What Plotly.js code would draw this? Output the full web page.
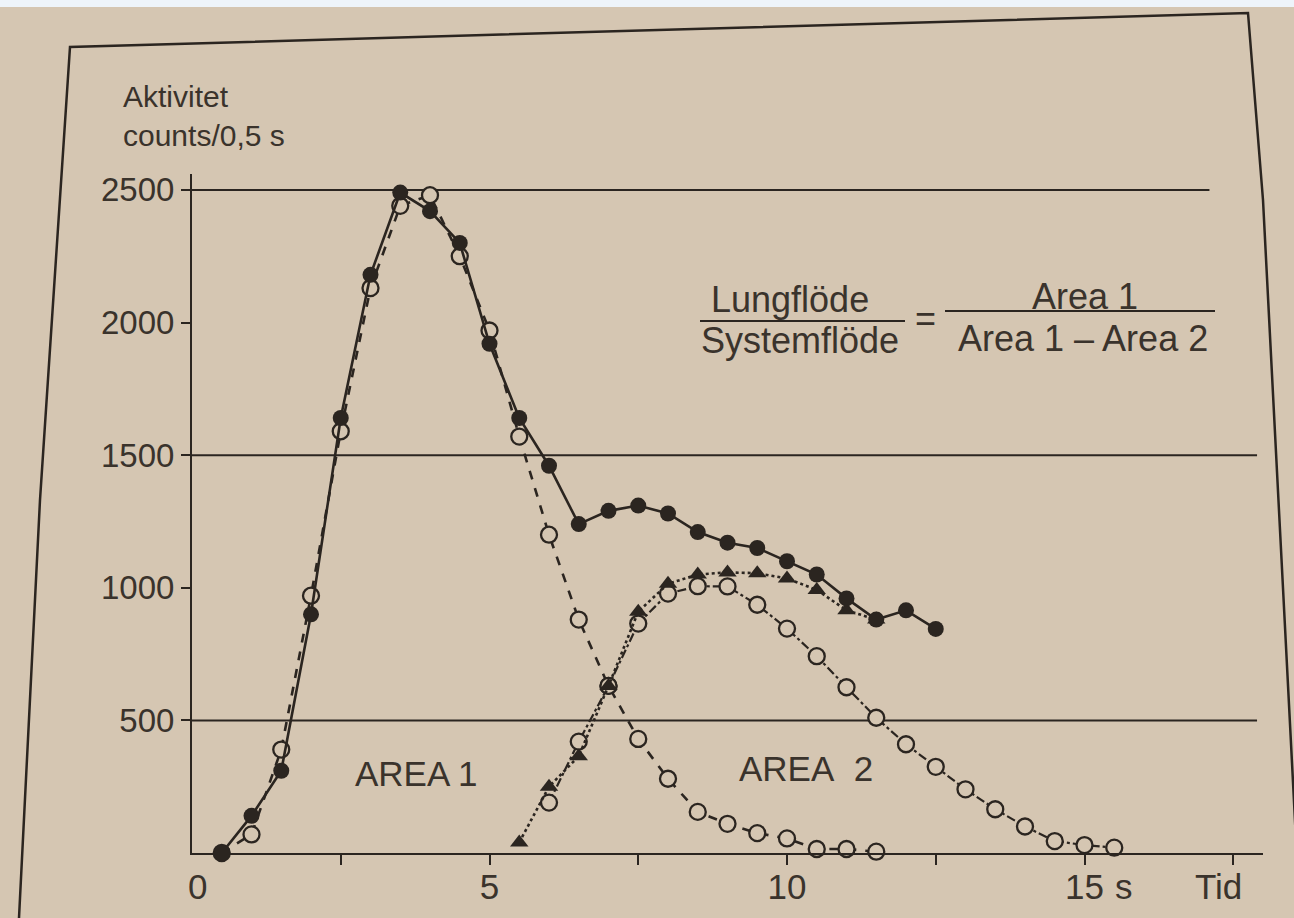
<!DOCTYPE html>
<html>
<head>
<meta charset="utf-8">
<script src="https://cdn.plot.ly/plotly-3.0.1.min.js"></script>
<style>html,body{margin:0;padding:0;background:#d5c6b2;}#chart{width:1294px;height:918px;}</style>
</head>
<body>
<div id="chart"></div>
<script>
// ---- data (time in s, activity in counts/0,5 s) ----
const totalT = [0.5,1,1.5,2,2.5,3,3.5,4,4.5,5,5.5,6,6.5,7,7.5,8,8.5,9,9.5,10,10.5,11,11.5,12,12.5];
const totalY = [0,140,310,900,1640,2180,2490,2420,2300,1920,1640,1460,1240,1290,1310,1280,1210,1170,1150,1100,1050,960,880,915,845];

const area1T = [0.5,1,1.5,2,2.5,3,3.5,4,4.5,5,5.5,6,6.5,7,7.5,8,8.5,9,9.5,10,10.5,11,11.5];
const area1Y = [0,70,390,970,1590,2130,2440,2480,2250,1970,1570,1200,880,630,430,280,155,110,75,55,15,15,5];

const diffT = [5.5,6,6.5,7,7.5,8,8.5,9,9.5,10,10.5,11,11.5];
const diffY = [40,250,365,630,910,1015,1050,1058,1055,1035,992,915,880];

const area2T = [6,6.5,7,7.5,8,8.5,9,9.5,10,10.5,11,11.5,12,12.5,13,13.5,14,14.5,15,15.5];
const area2Y = [190,420,630,865,978,1006,1005,936,846,742,625,510,410,325,240,165,100,45,30,20];

const yTicks = [500,1000,1500,2000,2500];
const yTickText = ['500','1000','1500','2000','2500'];
const xTicks = [2.5,5,7.5,10,12.5,15,17.5];
const xTickText = ['','5','','10','','15',''];
const gridLevels = [500,1500,2500];

// ---- style ----
const INK = '#2b2520';
const TXT = '#3a332c';
const PAPER = '#d5c6b2';
const FONT = 'Liberation Sans, Arial, Helvetica, sans-serif';

// layout geometry (pixels)
const L = 192, R = 31, T = 174, B = 65, W = 1294, H = 918;
const PW = W - L - R, PH = H - T - B;
const px = x => (x - L) / PW;
const py = y => (H - B - y) / PH;

const traces = [
  {x: area2T, y: area2Y, mode: 'lines+markers', cliponaxis: false,
   line: {color: INK, width: 2.2, dash: 'dashdot'},
   marker: {symbol: 'circle', size: 16, color: PAPER, line: {color: INK, width: 2.3}}},
  {x: area1T, y: area1Y, mode: 'lines+markers', cliponaxis: false,
   line: {color: INK, width: 2.6, dash: 'dash'},
   marker: {symbol: 'circle', size: 16, color: PAPER, line: {color: INK, width: 2.3}}},
  {x: diffT, y: diffY, mode: 'lines+markers', cliponaxis: false,
   line: {color: INK, width: 2.6, dash: 'dot'},
   marker: {symbol: 'triangle-up', size: 16, color: INK}},
  {x: totalT, y: totalY, mode: 'lines+markers', cliponaxis: false,
   line: {color: INK, width: 2.6},
   marker: {symbol: 'circle', size: 16, color: INK}}
];

const shapes = [];
gridLevels.forEach(v => {
  shapes.push({type: 'line', xref: 'x', yref: 'y', x0: 0, x1: v === 2500 ? 17.1 : 17.9, y0: v, y1: v,
               line: {color: INK, width: 2}, layer: 'below'});
});
// printed frame
shapes.push({type: 'path', xref: 'paper', yref: 'paper',
  path: `M ${px(19)} ${py(918)} L ${px(40)} ${py(500)} L ${px(70)} ${py(47)} L ${px(1248)} ${py(13)} L ${px(1263)} ${py(200)} L ${px(1300)} ${py(918)}`,
  line: {color: INK, width: 2.5}});
// formula fraction bars
shapes.push({type: 'line', xref: 'paper', yref: 'paper', x0: px(700), x1: px(905), y0: py(321), y1: py(321), line: {color: INK, width: 2}});
shapes.push({type: 'line', xref: 'paper', yref: 'paper', x0: px(945), x1: px(1215), y0: py(311), y1: py(311), line: {color: INK, width: 2}});
// top light strip of the photo
shapes.push({type: 'rect', xref: 'paper', yref: 'paper', x0: px(-5), x1: px(1300), y0: py(7), y1: py(-5),
  fillcolor: '#eef4fa', line: {width: 0}});

function ann(text, x, y, size, xanchor, yanchor) {
  return {text: text, xref: 'paper', yref: 'paper', x: px(x), y: py(y), showarrow: false, align: 'left',
          xanchor: xanchor || 'center', yanchor: yanchor || 'middle', font: {family: FONT, size: size, color: TXT}};
}
const annotations = [
  ann('Aktivitet<br>counts/0,5 s', 121, 78, 30, 'left', 'top'),
  ann('Lungflöde', 790, 299, 36),
  ann('Systemflöde', 800, 340, 36),
  ann('=', 925, 318, 36),
  ann('Area 1', 1085, 296, 36),
  ann('Area 1 – Area 2', 1083, 338, 36),
  ann('AREA 1', 416, 773, 35),
  ann('AREA\u00a0\u00a02', 806, 768, 35),
  ann('0', 197, 886, 35),
  ann('s', 1124, 886, 35),
  ann('Tid', 1218, 886, 35)
];

const layout = {
  width: W, height: H,
  margin: {l: L, r: R, t: T, b: B},
  paper_bgcolor: PAPER, plot_bgcolor: PAPER,
  showlegend: false,
  font: {family: FONT, color: TXT},
  xaxis: {range: [0, 18], showline: true, linecolor: INK, linewidth: 2, zeroline: false, showgrid: false,
          tickmode: 'array', tickvals: xTicks, ticktext: xTickText, ticks: 'outside', ticklen: 10, tickwidth: 2,
          ticklabelstandoff: -8,
          tickcolor: INK, tickfont: {family: FONT, size: 35, color: TXT}},
  yaxis: {range: [0, 2560], showline: true, linecolor: INK, linewidth: 2, zeroline: false, showgrid: false,
          tickmode: 'array', tickvals: yTicks, ticktext: yTickText, ticks: 'outside', ticklen: 9, tickwidth: 2,
          tickcolor: INK, tickfont: {family: FONT, size: 33, color: TXT}},
  shapes: shapes,
  annotations: annotations
};

Plotly.newPlot('chart', traces, layout, {displayModeBar: false, staticPlot: true});
</script>
</body>
</html>
